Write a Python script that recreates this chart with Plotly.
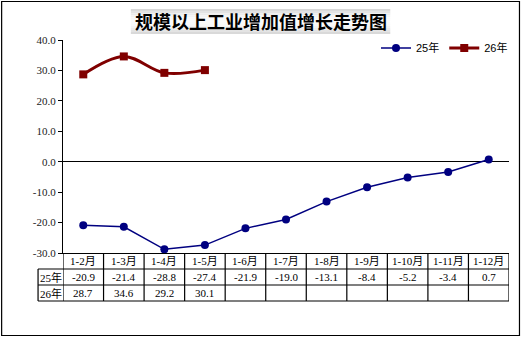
import plotly.graph_objects as go
import math

months = ["1-2月", "1-3月", "1-4月", "1-5月", "1-6月", "1-7月", "1-8月", "1-9月", "1-10月", "1-11月", "1-12月"]
s25 = [-20.9, -21.4, -28.8, -27.4, -21.9, -19.0, -13.1, -8.4, -5.2, -3.4, 0.7]
s26 = [28.7, 34.6, 29.2, 30.1]
y_ticks = [40, 30, 20, 10, 0, -10, -20, -30]
title = "规模以上工业增加值增长走势图"

W, H = 524, 337
L, R, T, B = 63, 510, 40, 253
PW, PH = R - L, B - T


def xp(px):
    return (px - L) / PW


def yp(py):
    return (B - py) / PH


FONT = "Liberation Serif, Noto Sans CJK SC"
CJK = "Noto Sans CJK SC"

fig = go.Figure()
fig.add_trace(go.Scatter(
    x=months, y=s25, name="25年", mode="lines+markers",
    line=dict(color="#000080", width=1.5),
    marker=dict(symbol="circle", size=8, color="#000080"),
))
fig.add_trace(go.Scatter(
    x=months[:len(s26)], y=s26, name="26年", mode="lines+markers",
    line=dict(color="#800000", width=3, shape="spline", smoothing=1.0),
    marker=dict(symbol="square", size=8, color="#800000"),
))

shapes = []
annotations = []

# outer frame
shapes.append(dict(type="rect", xref="paper", yref="paper",
                   x0=xp(1.5), x1=xp(520.5), y0=yp(1.5), y1=yp(335.5),
                   line=dict(color="black", width=1.2), fillcolor="rgba(0,0,0,0)", layer="below"))

# title box with gradient strips
tx0, tx1, ty0, ty1 = 131, 391, 9, 34
n = 12
for k in range(n):
    t = (k + 0.5) / n
    v = int(212 + 40 * math.sin(math.pi * t))
    v = min(v, 250)
    shapes.append(dict(type="rect", xref="paper", yref="paper",
                       x0=xp(tx0), x1=xp(tx1),
                       y0=yp(ty0 + (ty1 - ty0) * k / n), y1=yp(ty0 + (ty1 - ty0) * (k + 1) / n),
                       line=dict(width=0), fillcolor=f"rgb({v},{v},{v})", layer="below"))
annotations.append(dict(text=f"<b>{title}</b>", xref="paper", yref="paper",
                        x=xp((tx0 + tx1) / 2), y=yp((ty0 + ty1) / 2),
                        xanchor="center", yanchor="middle", showarrow=False,
                        font=dict(family=CJK, size=18, color="black")))

# table
rows_y = [253, 269, 285, 301]
for i in range(len(months) + 1):
    shapes.append(dict(type="line", xref="x", yref="paper",
                       x0=i - 0.5, x1=i - 0.5, y0=yp(rows_y[0]), y1=yp(rows_y[3]),
                       line=dict(color="black", width=1.2)))
for ry in rows_y[1:]:
    shapes.append(dict(type="line", xref="paper", yref="paper",
                       x0=xp(38), x1=xp(R), y0=yp(ry), y1=yp(ry),
                       line=dict(color="black", width=1.2)))
shapes.append(dict(type="line", xref="paper", yref="paper",
                   x0=xp(38), x1=xp(38), y0=yp(rows_y[1]), y1=yp(rows_y[3]),
                   line=dict(color="black", width=1.2)))

row_labels = ["25年", "26年"]
for r, lab in enumerate(row_labels):
    annotations.append(dict(text=lab, xref="paper", yref="paper",
                            x=xp(50.5), y=yp((rows_y[r + 1] + rows_y[r + 2]) / 2),
                            xanchor="center", yanchor="middle", showarrow=False,
                            font=dict(family=FONT, size=11, color="black")))
for i, m in enumerate(months):
    annotations.append(dict(text=m, xref="x", yref="paper", x=i,
                            y=yp((rows_y[0] + rows_y[1]) / 2),
                            xanchor="center", yanchor="middle", showarrow=False,
                            font=dict(family=FONT, size=11, color="black")))
    annotations.append(dict(text=f"{s25[i]:.1f}", xref="x", yref="paper", x=i,
                            y=yp((rows_y[1] + rows_y[2]) / 2),
                            xanchor="center", yanchor="middle", showarrow=False,
                            font=dict(family=FONT, size=11, color="black")))
    if i < len(s26):
        annotations.append(dict(text=f"{s26[i]:.1f}", xref="x", yref="paper", x=i,
                                y=yp((rows_y[2] + rows_y[3]) / 2),
                                xanchor="center", yanchor="middle", showarrow=False,
                                font=dict(family=FONT, size=11, color="black")))

fig.update_layout(
    width=W, height=H,
    margin=dict(l=L, r=W - R, t=T, b=H - B, pad=0),
    paper_bgcolor="white", plot_bgcolor="white",
    showlegend=True,
    legend=dict(orientation="h", x=xp(513), y=yp(48), xanchor="right", yanchor="middle",
                font=dict(family="Liberation Sans, Noto Sans CJK SC", size=11, color="black"),
                itemwidth=30, bgcolor="rgba(0,0,0,0)", tracegroupgap=0),
    shapes=shapes, annotations=annotations,
    xaxis=dict(type="category", range=[-0.5, len(months) - 0.5], showticklabels=False,
               showline=True, linecolor="black", linewidth=1.2, ticks="", showgrid=False,
               zeroline=False, fixedrange=True),
    yaxis=dict(range=[-30, 40], tickvals=y_ticks, ticktext=[f"{v:.1f}" for v in y_ticks],
               showline=True, linecolor="black", linewidth=1.2, ticks="outside", ticklen=4,
               tickcolor="black", showgrid=False, zeroline=True, zerolinecolor="black",
               zerolinewidth=1.2, tickfont=dict(family=FONT, size=11, color="#222"),
               fixedrange=True),
)

fig.write_html("out.html")
